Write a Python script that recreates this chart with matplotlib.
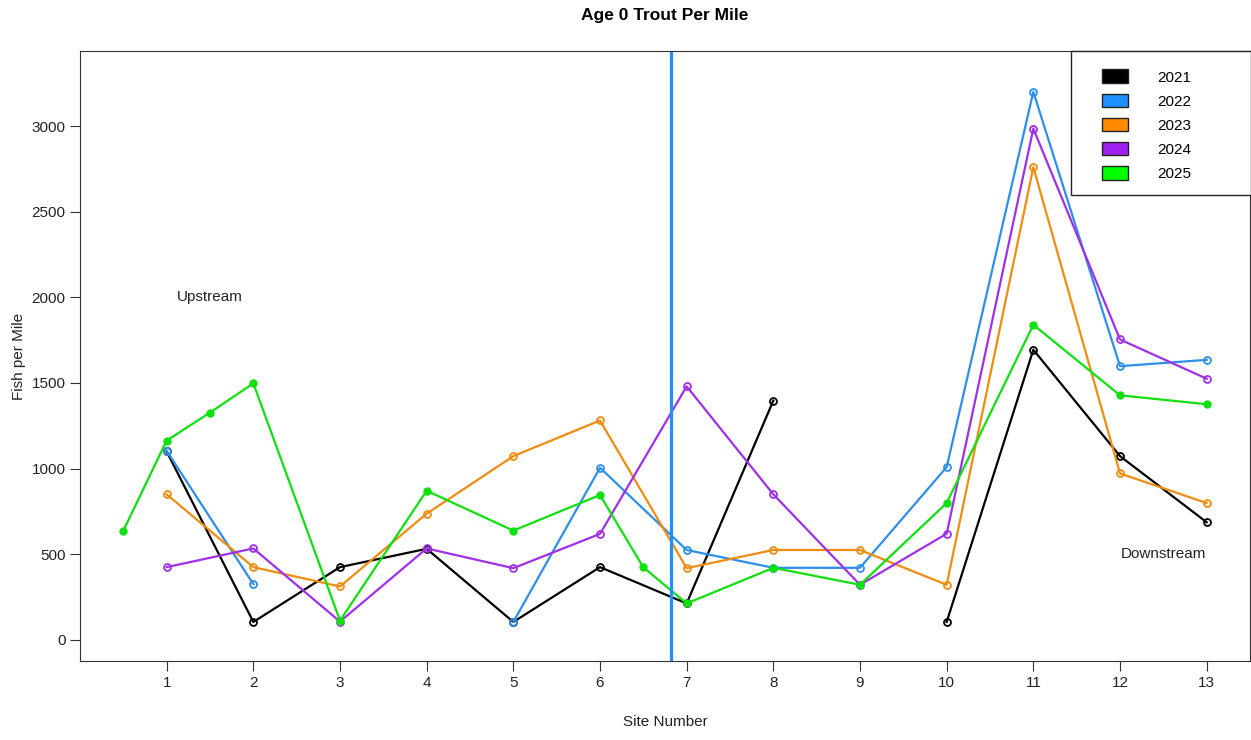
import numpy as np
import matplotlib
matplotlib.use("Agg")
import matplotlib.pyplot as plt
from matplotlib.patches import Patch, Rectangle

plt.rcParams['font.family'] = ['Liberation Sans', 'DejaVu Sans']

nan = np.nan
sites = [1, 2, 3, 4, 5, 6, 7, 8, 9, 10, 11, 12, 13]
y2021 = [1100, 105, 425, 532, 105, 425, 213, 1397, nan, 105, 1694, 1073, 687]
y2022 = [1104, 326, nan, nan, 105, 1005, 525, 421, 421, 1009, 3200, 1598, 1635]
y2023 = [850, 425, 312, 737, 1073, 1281, 419, 525, 525, 322, 2760, 972, 799]
y2024 = [425, 534, 107, 534, 419, 619, 1480, 850, 322, 620, 2985, 1754, 1525]
sites2025 = [0.5, 1, 1.5, 2, 3, 4, 5, 6, 6.5, 7, 8, 9, 10, 11, 12, 13]
y2025 = [638, 1164, 1327, 1498, 113, 871, 638, 846, 424, 213, 421, 322, 799, 1840, 1428, 1376]

years = ['2021', '2022', '2023', '2024', '2025']
colors = ['#000000', '#1E90FF', '#FF8C00', '#A020F0', '#00FF00']
line_colors = ['#000000', '#2E8FE8', '#F08C10', '#A030E8', '#10E010']

divider_x = 6.82
yticks = [0, 500, 1000, 1500, 2000, 2500, 3000]

fig = plt.figure(figsize=(12.51, 7.40), dpi=100)
ax = fig.add_axes([80/1251, 1-661/740, 1170/1251, 610/740])

series = [(sites, y2021), (sites, y2022), (sites, y2023), (sites, y2024)]
for (xs, ys), lc in zip(series, line_colors[:4]):
    ax.plot(xs, ys, color=lc, lw=1.6, marker='o', markersize=5,
            markerfacecolor='none', markeredgecolor=lc, markeredgewidth=1.3)
ax.plot(sites2025, y2025, color=line_colors[4], lw=1.6, marker='o', markersize=5,
        markerfacecolor=line_colors[4], markeredgecolor=line_colors[4])

ax.axvline(divider_x, color='#1E90FF', lw=2.3)

ax.text(1.5, 2000, 'Upstream', fontsize=11, ha='center', va='center', color='#222222')
ax.text(12.5, 500, 'Downstream', fontsize=11, ha='center', va='center', color='#222222')

ax.set_xlim(0, 13.5)
ax.set_ylim(-123, 3438)
ax.set_xticks(sites)
ax.set_yticks(yticks)
ax.tick_params(labelsize=11, length=7, color='#333333', labelcolor='#222222')
for s in ax.spines.values():
    s.set_color('#333333')

ax.set_xlabel('Site Number', fontsize=11, labelpad=18, color='#222222')
ax.set_ylabel('Fish per Mile', fontsize=11, labelpad=4, color='#222222')
ax.set_title('Age 0 Trout Per Mile', fontsize=12.5, fontweight='bold', pad=22)

# legend frame
ax.add_patch(Rectangle(((1071-80)/1170, (661-195)/610), 180/1170, 144/610,
                       transform=ax.transAxes, facecolor='white',
                       edgecolor='#222222', lw=1, clip_on=False, zorder=4))
handles = [Patch(facecolor=c, edgecolor='#222222', lw=1) for c in colors]
leg = ax.legend(handles, years, loc='upper left',
                bbox_to_anchor=((1102-80)/1170, (661-69.5)/610),
                borderaxespad=0, frameon=False, fontsize=11, handlelength=1.7,
                handleheight=1.0, handletextpad=1.9, labelspacing=0.59,
                borderpad=0)
leg.set_zorder(5)

fig.savefig('out.png', dpi=100, facecolor='white')
